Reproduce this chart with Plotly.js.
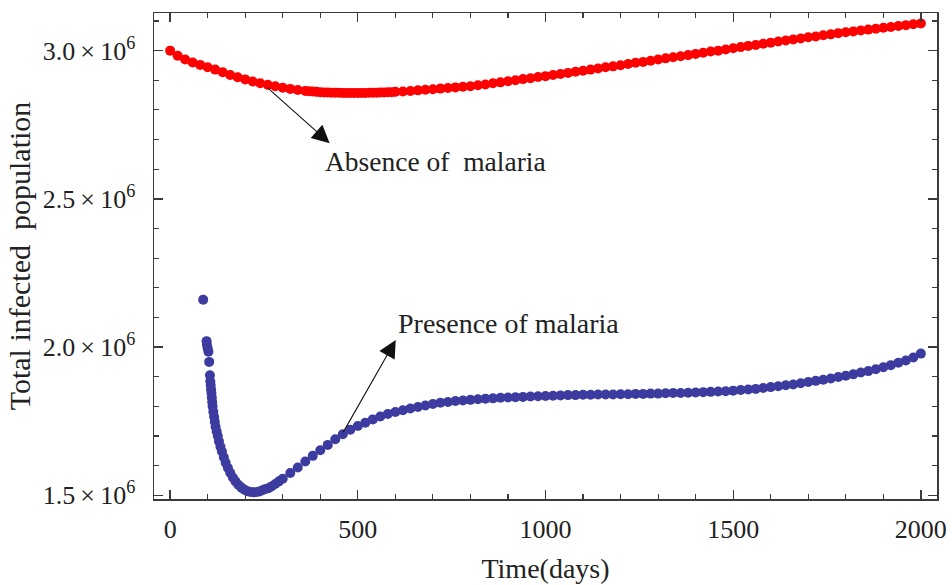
<!DOCTYPE html>
<html><head><meta charset="utf-8">
<script src="https://cdn.plot.ly/plotly-3.0.1.min.js"></script>
<style>html,body{margin:0;padding:0;background:#fff;} #chart{width:952px;height:585px;}</style>
</head><body><div id="chart"></div>
<script>
// Absence of malaria (red)
const absenceDays = [0,20,40,60,80,100,120,140,160,180,200,220,240,260,280,300,320,340,360,370,380,390,400,410,420,430,440,450,460,470,480,490,500,510,520,530,540,550,560,570,580,590,600,620,640,660,680,700,720,740,760,780,800,820,840,860,880,900,920,940,960,980,1000,1020,1040,1060,1080,1100,1120,1140,1160,1180,1200,1220,1240,1260,1280,1300,1320,1340,1360,1380,1400,1420,1440,1460,1480,1500,1520,1540,1560,1580,1600,1620,1640,1660,1680,1700,1720,1740,1760,1780,1800,1820,1840,1860,1880,1900,1920,1940,1960,1980,2000];
const absenceMillions = [3.000,2.983,2.970,2.960,2.952,2.944,2.936,2.927,2.918,2.910,2.903,2.896,2.890,2.885,2.880,2.875,2.871,2.867,2.864,2.863,2.862,2.861,2.860,2.859,2.859,2.858,2.858,2.858,2.857,2.857,2.857,2.857,2.857,2.857,2.857,2.858,2.858,2.858,2.859,2.859,2.860,2.860,2.861,2.862,2.864,2.866,2.868,2.870,2.872,2.874,2.876,2.878,2.880,2.883,2.886,2.890,2.893,2.897,2.900,2.904,2.907,2.911,2.914,2.918,2.921,2.925,2.929,2.932,2.936,2.940,2.944,2.947,2.951,2.955,2.959,2.962,2.966,2.970,2.974,2.978,2.981,2.985,2.989,2.993,2.997,3.000,3.004,3.008,3.012,3.016,3.019,3.023,3.027,3.031,3.034,3.038,3.041,3.045,3.048,3.052,3.055,3.059,3.062,3.065,3.068,3.071,3.074,3.077,3.080,3.083,3.086,3.089,3.092];
// Presence of malaria (blue)
const presenceDays = [88,97,98,100,102,104,106,107,108,109,110,111,112,113,115,117,119,121,124,127,130,134,138,143,148,154,160,167,174,182,190,198,206,214,222,230,238,246,254,262,270,280,290,300,320,340,360,380,400,420,440,460,480,500,520,540,560,580,600,620,640,660,680,700,720,740,760,780,800,820,840,860,880,900,920,940,960,980,1000,1020,1040,1060,1080,1100,1120,1140,1160,1180,1200,1220,1240,1260,1280,1300,1320,1340,1360,1380,1400,1420,1440,1460,1480,1500,1520,1540,1560,1580,1600,1620,1640,1660,1680,1700,1720,1740,1760,1780,1800,1820,1840,1860,1880,1900,1920,1940,1960,1980,2000];
const presenceMillions = [2.160,2.020,2.008,1.996,1.984,1.950,1.905,1.885,1.872,1.858,1.845,1.830,1.815,1.800,1.782,1.765,1.748,1.731,1.715,1.700,1.682,1.664,1.648,1.628,1.610,1.592,1.576,1.560,1.547,1.535,1.526,1.519,1.514,1.511,1.510,1.511,1.513,1.517,1.521,1.524,1.530,1.538,1.547,1.556,1.575,1.594,1.614,1.633,1.652,1.670,1.689,1.706,1.721,1.734,1.745,1.756,1.766,1.774,1.781,1.787,1.793,1.798,1.803,1.808,1.812,1.815,1.818,1.820,1.822,1.824,1.826,1.827,1.829,1.830,1.831,1.832,1.833,1.834,1.835,1.836,1.837,1.838,1.838,1.839,1.839,1.840,1.840,1.840,1.841,1.841,1.842,1.842,1.843,1.843,1.844,1.845,1.845,1.846,1.847,1.848,1.849,1.850,1.851,1.853,1.855,1.857,1.859,1.862,1.865,1.868,1.871,1.874,1.878,1.882,1.886,1.890,1.894,1.899,1.903,1.908,1.914,1.919,1.925,1.932,1.939,1.947,1.955,1.965,1.978];

const yTickMillions = [1.5, 2.0, 2.5, 3.0];
const yTickLabels = ['1.5', '2.0', '2.5', '3.0'];
const xTitle = 'Time(days)';
const yTitle = 'Total infected\u00A0 population';
const absenceLabel = 'Absence of\u00A0 malaria';
const presenceLabel = 'Presence of malaria';

const M = 1e6;
const font = 'Liberation Serif, Times New Roman, serif';
const ink = '#222222';
const frame = '#3a3a3a';

const traces = [
  {x: absenceDays, y: absenceMillions.map(v => v * M), mode: 'markers', type: 'scatter',
   marker: {color: '#ff0000', size: 10}, hoverinfo: 'skip'},
  {x: presenceDays, y: presenceMillions.map(v => v * M), mode: 'markers', type: 'scatter',
   marker: {color: 'rgb(60,60,160)', size: 10}, hoverinfo: 'skip'}
];

const axisCommon = {
  showline: true, linewidth: 1.5, linecolor: frame, mirror: 'ticks',
  ticks: 'inside', ticklen: 9, tickwidth: 1.3, tickcolor: frame,
  showgrid: false, zeroline: false,
  tickfont: {family: font, size: 26, color: ink}
};

const layout = {
  width: 952, height: 585,
  margin: {l: 154, r: 15, t: 13, b: 86},
  paper_bgcolor: '#fff', plot_bgcolor: '#fff',
  showlegend: false,
  font: {family: font, color: ink},
  xaxis: Object.assign({}, axisCommon, {
    range: [-43, 2043], tick0: 0, dtick: 500,
    minor: {dtick: 100, tick0: 0, ticks: 'inside', ticklen: 5, tickwidth: 1.1, tickcolor: frame, showgrid: false},
    ticklabelstandoff: 6,
    title: {text: xTitle, font: {family: font, size: 28, color: ink}, standoff: 15}
  }),
  yaxis: Object.assign({}, axisCommon, {
    range: [1.4875 * M, 3.127 * M],
    tickmode: 'array',
    tickvals: yTickMillions.map(v => v * M),
    ticktext: yTickLabels.map(s => s + '\u2009\u00D7\u200910<sup>6</sup>'),
    minor: {dtick: 0.1 * M, tick0: 0, ticks: 'inside', ticklen: 5, tickwidth: 1.1, tickcolor: frame, showgrid: false},
    ticklabelstandoff: 12,
    title: {text: yTitle, font: {family: font, size: 30, color: ink}, standoff: 3}
  }),
  annotations: [
    {x: 425, y: 2.688 * M, ax: 255, ay: 2.880 * M, xref: 'x', yref: 'y', axref: 'x', ayref: 'y',
     text: '', showarrow: true, arrowhead: 2, arrowsize: 3.2, arrowwidth: 1.1, arrowcolor: '#111'},
    {x: 601, y: 2.024 * M, ax: 459, ay: 1.708 * M, xref: 'x', yref: 'y', axref: 'x', ayref: 'y',
     text: '', showarrow: true, arrowhead: 2, arrowsize: 3.2, arrowwidth: 1.1, arrowcolor: '#111'},
    {x: 407, y: 2.625 * M, xref: 'x', yref: 'y', text: absenceLabel, showarrow: false,
     xanchor: 'left', yanchor: 'middle', font: {family: font, size: 27.5, color: ink}},
    {x: 601, y: 2.078 * M, xref: 'x', yref: 'y', text: presenceLabel, showarrow: false,
     xanchor: 'left', yanchor: 'middle', font: {family: font, size: 28, color: ink}}
  ]
};

Plotly.newPlot('chart', traces, layout, {displayModeBar: false, staticPlot: true});
</script>
</body></html>
